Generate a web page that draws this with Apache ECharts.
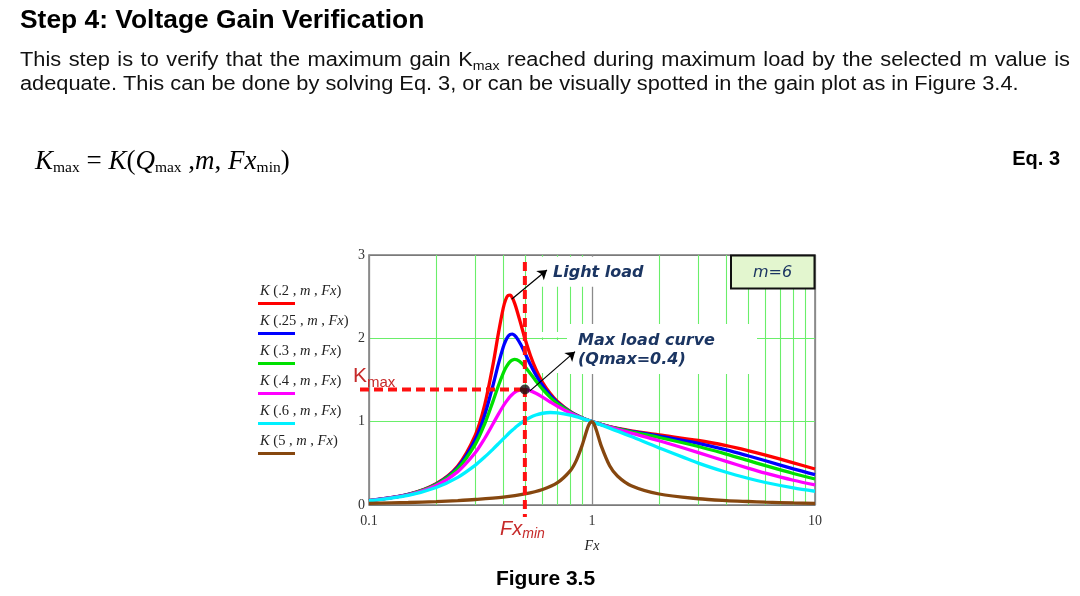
<!DOCTYPE html>
<html><head><meta charset="utf-8">
<script src="https://cdn.jsdelivr.net/npm/echarts@6/dist/echarts.min.js"></script>
<style>html,body{margin:0;padding:0;background:#fff}#c{width:1080px;height:596px}</style>
</head><body><div id="c"></div>
<script>
// ---------- data ----------
const fx = [0.1,0.15,0.2,0.25,0.3,0.33,0.36,0.38,0.4,0.41,0.42,0.43,0.44,0.45,0.46,0.48,0.5,0.53,0.56,0.6,0.65,0.7,0.8,0.9,1,1.2,1.5,2,3,4,5,6,8,10];
const k_q020 = [0.053,0.128,0.255,0.468,0.841,1.198,1.687,2.054,2.364,2.463,2.514,2.518,2.483,2.420,2.341,2.167,2.000,1.791,1.630,1.473,1.337,1.242,1.121,1.048,1,0.940,0.890,0.841,0.774,0.712,0.653,0.599,0.506,0.432];
const k_q025 = [0.053,0.127,0.251,0.453,0.786,1.078,1.439,1.688,1.896,1.971,2.021,2.047,2.051,2.035,2.006,1.922,1.824,1.683,1.562,1.434,1.316,1.231,1.118,1.048,1,0.939,0.885,0.827,0.739,0.661,0.591,0.531,0.434,0.364];
const k_q030 = [0.053,0.126,0.246,0.436,0.731,0.971,1.246,1.428,1.582,1.643,1.689,1.722,1.740,1.747,1.743,1.711,1.661,1.574,1.489,1.390,1.292,1.217,1.114,1.047,1,0.937,0.878,0.810,0.702,0.611,0.535,0.472,0.378,0.312];
const k_q040 = [0.052,0.123,0.235,0.400,0.630,0.798,0.975,1.088,1.188,1.232,1.270,1.303,1.330,1.351,1.367,1.385,1.387,1.370,1.341,1.294,1.236,1.185,1.104,1.045,1,0.934,0.862,0.771,0.629,0.523,0.443,0.382,0.297,0.242];
const k_q060 = [0.051,0.116,0.210,0.332,0.479,0.575,0.671,0.733,0.793,0.821,0.849,0.875,0.899,0.922,0.944,0.983,1.015,1.054,1.080,1.101,1.110,1.106,1.078,1.040,1,0.923,0.821,0.685,0.503,0.393,0.321,0.270,0.205,0.165];
const fxBrown = [0.1,0.15,0.2,0.25,0.3,0.4,0.5,0.6,0.7,0.8,0.85,0.9,0.93,0.96,0.98,1,1.02,1.05,1.1,1.2,1.3,1.5,2,3,4,5,6,8,10];
const k_q5 = [0.019,0.030,0.041,0.053,0.066,0.095,0.133,0.186,0.268,0.413,0.533,0.703,0.826,0.940,0.988,1,0.974,0.885,0.710,0.472,0.349,0.232,0.132,0.075,0.053,0.042,0.034,0.025,0.020];
const qLabels = ['.2','.25','.3','.4','.6','5'];
const xTicks = [0.1,1,10];
const xTickLabels = ['0.1','1','10'];
const yTickLabels = ['0','1','2','3'];
const minorFx = [0.2,0.3,0.4,0.5,0.6,0.7,0.8,0.9,2,3,4,5,6,7,8,9];
const fxMin = 0.5, kMax = 1.387;
const arrowLight = [[0.436,2.47],[0.628,2.82]];
const arrowMax = [[0.527,1.37],[0.839,1.84]];

// ---------- styling ----------
const colors = ['#ff0000','#0000ff','#00e000','#ff00ff','#00f0ff','#86470f'];
const serif = "'Liberation Serif','Times New Roman',serif";
const sans = "'Liberation Sans',Arial,sans-serif";
const verd = "'DejaVu Sans',Verdana,sans-serif";
const gridGreen = '#6aee6a';
const darkRed = '#c62a2a';
const navy = '#1b3562';

const chart = echarts.init(document.getElementById('c'));
const allK = [k_q020,k_q025,k_q030,k_q040,k_q060];
const series = allK.map((arr,i)=>({
  type:'line', data: fx.map((x,j)=>[x,arr[j]]), showSymbol:false, smooth:0.3, z:3, silent:true,
  lineStyle:{color:colors[i], width:3.3}, itemStyle:{color:colors[i]}
}));
series.push({type:'line', data: fxBrown.map((x,j)=>[x,k_q5[j]]), showSymbol:false, smooth:0.3, z:3, silent:true,
  lineStyle:{color:colors[5], width:3.3}, itemStyle:{color:colors[5]}});
series[0].markLine = {silent:true, symbol:'none', z:1, animation:false, label:{show:false},
  lineStyle:{color:gridGreen, width:1.1, type:'solid'}, emphasis:{disabled:true},
  data: minorFx.map(v=>({xAxis:v}))};
series[1].markLine = {silent:true, symbol:['none','arrow'], symbolSize:9, z:5, animation:false, label:{show:false},
  lineStyle:{color:'#000', width:1.2, type:'solid'}, emphasis:{disabled:true},
  data: [[{coord:arrowLight[0]},{coord:arrowLight[1]}],[{coord:arrowMax[0]},{coord:arrowMax[1]}]]};
series.push({type:'scatter', data:[[fxMin,kMax]], symbolSize:10, z:7, silent:true, itemStyle:{color:'#111'}});

chart.setOption({
  animation:false,
  backgroundColor:'#fff',
  grid:{left:369, top:255, width:446, height:250, show:true, borderColor:'#7a7a7a', borderWidth:1.5},
  xAxis:{type:'log', logBase:10, min:0.1, max:10,
    axisLine:{show:false}, axisTick:{show:false},
    splitLine:{show:true, lineStyle:{color:'#8a8a8a', width:1.3}},
    axisLabel:{margin:9, fontFamily:serif, fontSize:14, color:'#333',
      formatter:v=>{const i=xTicks.findIndex(t=>Math.abs(t-v)<1e-6);return i<0?'':xTickLabels[i];}}},
  yAxis:{type:'value', min:0, max:3, interval:1,
    axisLine:{show:false}, axisTick:{show:false},
    splitLine:{show:true, lineStyle:{color:['#7a7a7a',gridGreen,gridGreen,'#7a7a7a'], width:1.2}},
    axisLabel:{margin:4, fontFamily:serif, fontSize:14, color:'#333', formatter:v=>yTickLabels[Math.round(v)]}},
  series
});

// ---------- text layout helpers ----------
const mctx = document.createElement('canvas').getContext('2d');
function fontStr(f){return (f.style||'normal')+' '+(f.weight||'normal')+' '+f.size+'px '+f.family;}
function w(t,f){mctx.font=fontStr(f);return mctx.measureText(t).width*(f.sx||1);}
function partsWidth(parts){return parts.reduce((s,p)=>s+w(p[0],p[1]),0);}
function runText(x, base, parts, z, align){
  const total = partsWidth(parts);
  let cx = align==='right'? x-total : align==='center'? x-total/2 : x;
  const out=[];
  parts.forEach(p=>{
    const f=p[1];
    out.push({type:'text', x:cx, y:base+(f.dy||0)-0.3*f.size, scaleX:f.sx||1, z:z||10, silent:true,
      style:{text:p[0], x:0, y:0, fontSize:f.size, fontFamily:f.family, fontStyle:f.style||'normal', fontWeight:f.weight||'normal',
        fill:f.color||'#000', align:'left', verticalAlign:'middle', textAlign:'left', textVerticalAlign:'middle'}});
    cx += w(p[0],f);
  });
  return out;
}
function justify(x0, x1, base, words, z){
  const widths = words.map(partsWidth);
  const gap = (x1-x0-widths.reduce((a,b)=>a+b,0))/(words.length-1);
  let cx=x0, out=[];
  words.forEach((wd,i)=>{out=out.concat(runText(cx,base,wd,z));cx+=widths[i]+gap;});
  return out;
}

const g = [];
// title & paragraph
const fTitle={size:26,family:sans,weight:'bold',color:'#000',sx:1.015};
g.push(...runText(20,29,[['Step 4: Voltage Gain Verification',fTitle]]));
const fP={size:20,family:sans,color:'#111',sx:1.09};
const fPs={size:13,family:sans,color:'#111',dy:3.5,sx:1.09};
const line1 = 'This step is to verify that the maximum gain KMAX reached during maximum load by the selected m value is'.split(' ')
  .map(t=>t==='KMAX'?[['K',fP],['max',fPs]]:[[t,fP]]);
g.push(...justify(20,1070,66.5,line1));
g.push(...runText(20,90,[['adequate. This can be done by solving Eq. 3, or can be visually spotted in the gain plot as in Figure 3.4.',fP]]));

// equation
const eIt={size:27,family:serif,style:'italic',color:'#000'};
const eR={size:27,family:serif,color:'#000'};
const eS={size:15.5,family:serif,color:'#000',dy:3};
g.push(...runText(35,170,[['K',eIt],['max',eS],[' = ',eR],['K',eIt],['(',eR],['Q',eIt],['max',eS],[' ,',eR],['m',eIt],[', ',eR],['Fx',eIt],['min',eS],[')',eR]]));
g.push(...runText(1060,165,[['Eq. 3',{size:20,family:sans,weight:'bold',color:'#000'}]],10,'right'));

// legend
const lIt={size:14.5,family:serif,style:'italic',color:'#222'};
const lR={size:14.5,family:serif,color:'#222'};
qLabels.forEach((q,i)=>{
  const base=296+30*i;
  g.push(...runText(260,base,[['K',lIt],[' (',lR],[q,lR],[' ,',lR],[' m',lIt],[' ,',lR],[' Fx',lIt],[')',lR]]));
  g.push({type:'line', z:10, silent:true, shape:{x1:258,y1:base+7.5,x2:295,y2:base+7.5}, style:{stroke:colors[i], lineWidth:3}});
});

// masks behind labels
const maskStyle={fill:'#fff'};
g.push({type:'rect', z:2, silent:true, shape:{x:534,y:256.8,width:118,height:30}, style:maskStyle});
g.push({type:'rect', z:2, silent:true, shape:{x:567,y:324,width:190,height:50}, style:maskStyle});
g.push({type:'rect', z:2, silent:true, shape:{x:536,y:332,width:31,height:5.5}, style:maskStyle});
g.push({type:'rect', z:2, silent:true, shape:{x:536,y:340,width:31,height:33}, style:maskStyle});

// annotation labels
const aB={size:16,family:verd,style:'italic',weight:'bold',color:navy};
g.push(...runText(553,277.5,[['Light load',aB]]));
g.push(...runText(578,345.5,[['Max load curve',aB]]));
g.push(...runText(578,365,[['(Qmax=0.4)',aB]]));
g.push({type:'rect', z:9, silent:true, shape:{x:731,y:255.5,width:83.5,height:33}, style:{fill:'#e3f6cf',stroke:'#111',lineWidth:2}});
g.push(...runText(772.5,278,[['m=6',{size:16,family:verd,style:'italic',color:navy}]],10,'center'));

// red dashed Kmax / Fxmin guides (positions from the axes)
const pk = chart.convertToPixel({xAxisIndex:0,yAxisIndex:0},[fxMin,kMax]);
const p0 = chart.convertToPixel({xAxisIndex:0,yAxisIndex:0},[0.1,0]);
const p3 = chart.convertToPixel({xAxisIndex:0,yAxisIndex:0},[0.1,3]);
const p1 = chart.convertToPixel({xAxisIndex:0,yAxisIndex:0},[1,0]);
const dash={stroke:'#ff1010', lineWidth:4, lineDash:[9,5]};
g.push({type:'line', z:6, silent:true, shape:{x1:p0[0]-9,y1:pk[1],x2:pk[0],y2:pk[1]}, style:dash});
g.push({type:'line', z:6, silent:true, shape:{x1:pk[0],y1:p3[1]+7,x2:pk[0],y2:p0[1]+12}, style:dash});
g.push(...runText(353,383,[['K',{size:21,family:sans,color:darkRed}],['max',{size:15,family:sans,color:darkRed,dy:4}]]));
g.push(...runText(500,535,[['Fx',{size:20,family:sans,style:'italic',color:darkRed}],['min',{size:14,family:sans,style:'italic',color:darkRed,dy:3}]]));

// axis title and caption
g.push(...runText(p1[0],551,[['Fx',{size:14,family:serif,style:'italic',color:'#222'}]],10,'center'));
g.push(...runText(545.5,586,[['Figure 3.5',{size:21,family:sans,weight:'bold',color:'#000'}]],10,'center'));

chart.setOption({graphic:{elements:g}});
</script></body></html>
